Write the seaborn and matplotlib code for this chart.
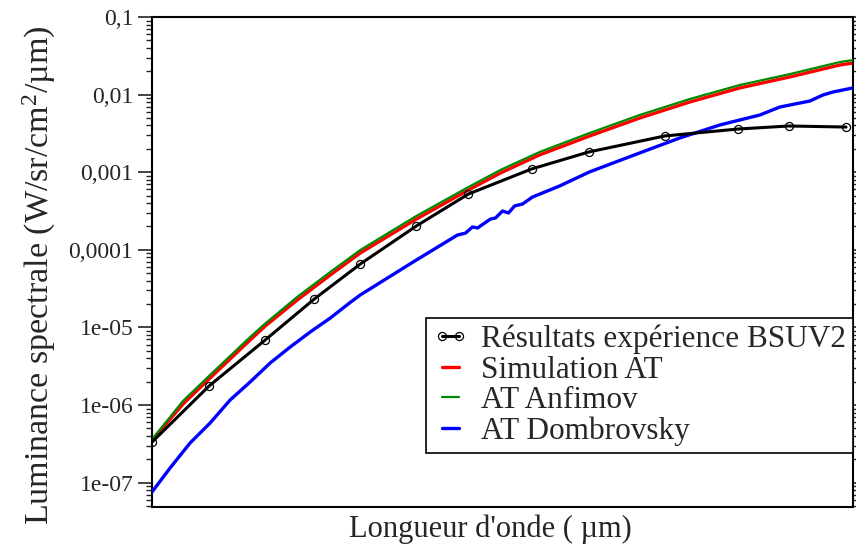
import matplotlib
matplotlib.use("Agg")
import matplotlib.pyplot as plt
import seaborn as sns
import pandas as pd
import numpy as np
from matplotlib.ticker import NullFormatter, LogLocator

# ---------------- data ----------------
# x axis has no tick labels; wavelength in arbitrary µm-like units
x_exp = [0.200, 0.257, 0.313, 0.362, 0.408, 0.464, 0.516, 0.579, 0.636,
         0.712, 0.785, 0.836, 0.893]
y_exp = [3.33e-7, 1.76e-6, 6.88e-6, 2.32e-5, 6.56e-5, 2.03e-4, 5.24e-4,
         1.10e-3, 1.82e-3, 2.93e-3, 3.60e-3, 3.94e-3, 3.82e-3]

x_sim = [0.200, 0.231, 0.258, 0.298, 0.313, 0.345, 0.378, 0.408, 0.464,
         0.516, 0.548, 0.587, 0.637, 0.687, 0.737, 0.787, 0.837, 0.887, 0.900]
y_simulation = [3.54e-7, 1.03e-6, 2.23e-6, 6.88e-6, 1.04e-5, 2.25e-5, 4.73e-5,
                9.10e-5, 2.49e-4, 5.90e-4, 9.77e-4, 1.67e-3, 2.93e-3, 4.99e-3,
                8.03e-3, 1.22e-2, 1.69e-2, 2.41e-2, 2.55e-2]
y_anfimov = [3.60e-7, 1.13e-6, 2.44e-6, 7.52e-6, 1.12e-5, 2.47e-5, 5.18e-5,
             9.94e-5, 2.73e-4, 6.44e-4, 1.07e-3, 1.82e-3, 3.20e-3, 5.46e-3,
             8.77e-3, 1.33e-2, 1.84e-2, 2.63e-2, 2.79e-2]

x_dom = [0.200, 0.218, 0.238, 0.258, 0.278, 0.298, 0.318, 0.338, 0.358,
         0.378, 0.398, 0.408, 0.464, 0.505, 0.513, 0.520, 0.525, 0.538,
         0.543, 0.550, 0.556, 0.562, 0.570, 0.580, 0.607, 0.637, 0.687,
         0.727, 0.767, 0.807, 0.827, 0.857, 0.870, 0.880, 0.900]
y_dombrovsky = [7.57e-8, 1.54e-7, 3.24e-7, 5.86e-7, 1.16e-6, 1.98e-6, 3.48e-6,
                5.59e-6, 8.73e-6, 1.32e-5, 2.10e-5, 2.62e-5, 7.39e-5, 1.55e-4,
                1.64e-4, 1.97e-4, 1.91e-4, 2.49e-4, 2.57e-4, 3.16e-4, 2.98e-4,
                3.67e-4, 3.89e-4, 4.79e-4, 6.64e-4, 1.01e-3, 1.77e-3, 2.76e-3,
                4.06e-3, 5.46e-3, 6.92e-3, 8.27e-3, 9.89e-3, 1.08e-2, 1.22e-2]

labels = ["Résultats expérience BSUV2", "Simulation AT", "AT Anfimov",
          "AT Dombrovsky"]
ytick_values = [1e-7, 1e-6, 1e-5, 1e-4, 1e-3, 1e-2, 1e-1]
ytick_labels = ["1e-07", "1e-06", "1e-05", "0,0001", "0,001", "0,01", "0,1"]
x_label = "Longueur d'onde ( µm)"
y_label = "Luminance spectrale (W/sr/cm$^{\\mathrm{2}}$/µm)"

# ---------------- style ----------------
sns.set_style("ticks")
plt.rcParams["font.family"] = ["Liberation Serif", "DejaVu Serif"]
plt.rcParams["mathtext.fontset"] = "custom"
plt.rcParams["mathtext.rm"] = "Liberation Serif"
plt.rcParams["mathtext.it"] = "Liberation Serif:italic"
plt.rcParams["mathtext.bf"] = "Liberation Serif:bold"

fig = plt.figure(figsize=(8.56, 5.46), dpi=100)
ax = fig.add_axes([152/856, 1 - 507/546, (853-152)/856, (507-17)/546])

df_sim = pd.DataFrame({"x": x_sim, "y": y_simulation})
df_anf = pd.DataFrame({"x": x_sim, "y": y_anfimov})
df_dom = pd.DataFrame({"x": x_dom, "y": y_dombrovsky})
df_exp = pd.DataFrame({"x": x_exp, "y": y_exp})

sns.lineplot(data=df_sim, x="x", y="y", ax=ax, color="#ff0000", lw=2.4,
             label=labels[1], estimator=None, sort=False, zorder=2)
sns.lineplot(data=df_anf, x="x", y="y", ax=ax, color="#008a00", lw=1.6,
             label=labels[2], estimator=None, sort=False, zorder=3)
sns.lineplot(data=df_dom, x="x", y="y", ax=ax, color="#0000ff", lw=2.4,
             label=labels[3], estimator=None, sort=False, zorder=4)
sns.lineplot(data=df_exp, x="x", y="y", ax=ax, color="black", lw=2.2,
             marker="o", markersize=5.8, markerfacecolor="none",
             markeredgecolor="black", markeredgewidth=0.9,
             label=labels[0], estimator=None, sort=False, zorder=5)

ax.set_yscale("log")
ax.set_xlim(0.2, 0.9)
ax.set_ylim(4.85e-8, 0.1)

ax.set_yticks(ytick_values, ytick_labels)
ax.yaxis.set_minor_locator(LogLocator(base=10, subs=np.arange(2, 10), numticks=20))
ax.yaxis.set_minor_formatter(NullFormatter())
ax.set_xticks([])

ax.tick_params(axis="y", which="major", direction="out", length=10, width=1.2,
               labelsize=17, pad=3.5, left=True, right=True, labelright=False)
ax.tick_params(axis="y", which="minor", direction="out", length=4.5, width=1.0,
               left=True, right=True)

for s in ax.spines.values():
    s.set_linewidth(1.5)
    s.set_color("black")
    s.set_visible(True)

ax.set_xlabel(x_label, fontsize=22)
ax.set_ylabel(y_label, fontsize=24.5)
ax.xaxis.set_label_coords((490-152)/701, -0.016)
ax.yaxis.set_label_coords((58-152)/701, (507-275)/490)

handles, labs = ax.get_legend_handles_labels()
order = [labs.index(l) for l in labels]
leg = ax.legend([handles[i] for i in order], [labs[i] for i in order],
                loc="upper right", bbox_to_anchor=(1.0, (507-318)/490),
                borderaxespad=0, fontsize=22.5, numpoints=2,
                handlelength=1.15, handletextpad=0.4, labelspacing=0.04,
                borderpad=0.22, frameon=True, fancybox=False, framealpha=1,
                edgecolor="black")
leg.get_frame().set_linewidth(1.2)

fig.savefig("out.png", dpi=100)
